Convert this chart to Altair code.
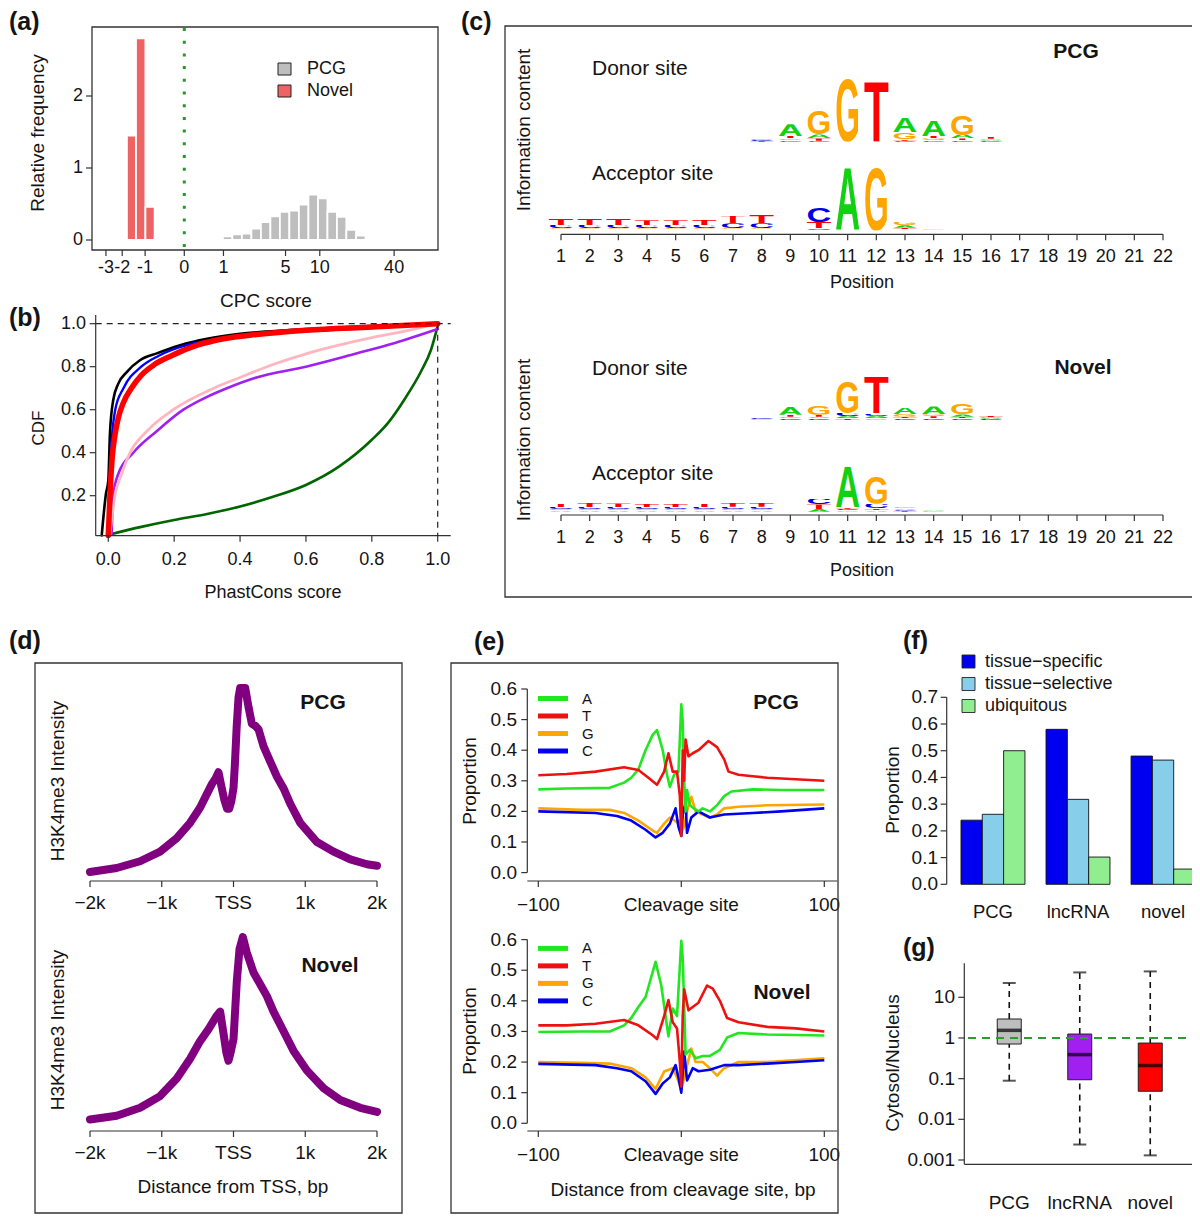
import base64
import altair as alt
import pandas as pd

# ======================= DATA =======================
# (a) CPC score histogram (bins in CPC-score units, heights = relative frequency)
CPC_TICKS = [-3, -2, -1, 0, 1, 5, 10, 40]
CPC_TICK_LABELS = ["-3", "-2", "-1", "0", "1", "5", "10", "40"]
FREQ_TICKS = [0, 1, 2]
NOVEL_BIN_LO = [-1.76, -1.35, -0.99, -0.69]
NOVEL_BIN_HI = [-1.35, -0.99, -0.69, -0.43]
NOVEL_FREQ = [1.45, 2.80, 0.46, 0.02]
PCG_BIN_LO = [0.67, 0.98, 1.34, 1.77, 2.28, 2.88, 3.59, 4.43, 5.42, 6.60, 8.00, 9.66, 11.6, 13.9, 16.6, 19.9]
PCG_BIN_HI = [0.98, 1.34, 1.77, 2.28, 2.88, 3.59, 4.43, 5.42, 6.60, 8.00, 9.66, 11.6, 13.9, 16.6, 19.9, 23.7]
PCG_FREQ = [0.02, 0.05, 0.08, 0.09, 0.16, 0.25, 0.33, 0.39, 0.41, 0.49, 0.63, 0.58, 0.39, 0.32, 0.14, 0.06]

# (b) PhastCons CDF curves
CDF_TICKS = [0.2, 0.4, 0.6, 0.8, 1.0]
PHAST_TICKS = [0.0, 0.2, 0.4, 0.6, 0.8, 1.0]
GREEN_X = [0.005, 0.1, 0.2, 0.3, 0.4, 0.5, 0.6, 0.7, 0.8, 0.85, 0.9, 0.95, 0.98, 1.0]
GREEN_Y = [0.02, 0.055, 0.087, 0.115, 0.15, 0.195, 0.25, 0.335, 0.46, 0.54, 0.65, 0.78, 0.88, 0.99]
PURPLE_X = [0.01, 0.015, 0.03, 0.076, 0.147, 0.228, 0.3, 0.36, 0.45, 0.6, 0.75, 0.87, 1.0]
PURPLE_Y = [0.02, 0.2, 0.3, 0.4, 0.5, 0.6, 0.66, 0.7, 0.75, 0.8, 0.86, 0.91, 0.975]
PINK_X = [0.005, 0.02, 0.04, 0.066, 0.117, 0.197, 0.32, 0.4, 0.5, 0.6, 0.7, 0.8, 0.9, 1.0]
PINK_Y = [0.02, 0.2, 0.3, 0.4, 0.5, 0.6, 0.7, 0.75, 0.81, 0.86, 0.9, 0.935, 0.965, 1.0]
BLACK_X = [-0.02, -0.007, 0.0, 0.005, 0.015, 0.03, 0.056, 0.096, 0.147, 0.218, 0.3, 0.4, 0.55, 0.7, 0.85, 1.0]
BLACK_Y = [0.015, 0.21, 0.27, 0.49, 0.645, 0.72, 0.775, 0.83, 0.862, 0.9, 0.93, 0.953, 0.97, 0.982, 0.992, 1.0]
BLUE_X = [0.0, 0.005, 0.01, 0.021, 0.046, 0.1, 0.152, 0.238, 0.3, 0.4, 0.5, 0.6, 0.8, 1.0]
BLUE_Y = [0.015, 0.3, 0.45, 0.6, 0.7, 0.8, 0.85, 0.9, 0.92, 0.945, 0.955, 0.965, 0.98, 1.0]
RED_X = [0.0, 0.005, 0.012, 0.02, 0.03, 0.045, 0.07, 0.1, 0.14, 0.19, 0.27, 0.35, 0.45, 0.6, 0.8, 1.0]
RED_Y = [0.015, 0.2, 0.38, 0.48, 0.56, 0.63, 0.7, 0.76, 0.81, 0.85, 0.9, 0.93, 0.95, 0.97, 0.985, 1.0]

# (c) splice-site sequence logos: position -> stack of (letter, bits), bottom to top
LOGO_POSITIONS = list(range(1, 23))
PCG_DONOR = [
    (8, [("T", 0.02), ("C", 0.03), ("G", 0.04)]),
    (9, [("C", 0.05), ("G", 0.05), ("T", 0.07), ("A", 0.36)]),
    (10, [("C", 0.03), ("T", 0.07), ("A", 0.12), ("G", 0.73)]),
    (11, [("G", 1.95)]),
    (12, [("T", 1.88)]),
    (13, [("C", 0.03), ("T", 0.05), ("G", 0.21), ("A", 0.45)]),
    (14, [("C", 0.04), ("G", 0.06), ("T", 0.07), ("A", 0.48)]),
    (15, [("C", 0.04), ("T", 0.06), ("A", 0.10), ("G", 0.62)]),
    (16, [("C", 0.03), ("A", 0.03), ("G", 0.03), ("T", 0.06)]),
]
PCG_ACCEPTOR = [
    (1, [("A", 0.03), ("G", 0.04), ("C", 0.10), ("T", 0.18)]),
    (2, [("A", 0.03), ("G", 0.04), ("C", 0.10), ("T", 0.21)]),
    (3, [("A", 0.03), ("G", 0.04), ("C", 0.10), ("T", 0.20)]),
    (4, [("A", 0.03), ("G", 0.04), ("C", 0.10), ("T", 0.14)]),
    (5, [("A", 0.03), ("G", 0.04), ("C", 0.10), ("T", 0.14)]),
    (6, [("A", 0.03), ("G", 0.04), ("C", 0.10), ("T", 0.15)]),
    (7, [("A", 0.03), ("G", 0.04), ("C", 0.15), ("T", 0.23)]),
    (8, [("A", 0.03), ("G", 0.04), ("C", 0.15), ("T", 0.25)]),
    (10, [("A", 0.06), ("T", 0.20), ("C", 0.46)]),
    (11, [("A", 1.96)]),
    (12, [("G", 1.96)]),
    (13, [("C", 0.03), ("T", 0.05), ("A", 0.08), ("G", 0.10)]),
    (14, [("A", 0.02), ("G", 0.02), ("C", 0.02)]),
]
NOVEL_DONOR = [
    (8, [("G", 0.02), ("C", 0.04)]),
    (9, [("C", 0.05), ("G", 0.05), ("T", 0.06), ("A", 0.24)]),
    (10, [("C", 0.05), ("A", 0.05), ("T", 0.06), ("G", 0.28)]),
    (11, [("T", 0.05), ("A", 0.06), ("C", 0.10), ("G", 0.98)]),
    (12, [("G", 0.05), ("A", 0.06), ("C", 0.08), ("T", 1.12)]),
    (13, [("C", 0.05), ("T", 0.05), ("G", 0.08), ("A", 0.22)]),
    (14, [("C", 0.05), ("T", 0.06), ("G", 0.06), ("A", 0.24)]),
    (15, [("C", 0.05), ("T", 0.05), ("A", 0.07), ("G", 0.33)]),
    (16, [("C", 0.03), ("A", 0.03), ("G", 0.03), ("T", 0.05)]),
]
NOVEL_ACCEPTOR = [
    (1, [("A", 0.04), ("G", 0.04), ("C", 0.06), ("T", 0.10)]),
    (2, [("A", 0.04), ("G", 0.04), ("C", 0.06), ("T", 0.12)]),
    (3, [("A", 0.04), ("G", 0.04), ("C", 0.06), ("T", 0.11)]),
    (4, [("A", 0.04), ("G", 0.04), ("C", 0.06), ("T", 0.09)]),
    (5, [("A", 0.04), ("G", 0.04), ("C", 0.06), ("T", 0.09)]),
    (6, [("A", 0.04), ("G", 0.04), ("C", 0.06), ("T", 0.10)]),
    (7, [("A", 0.04), ("G", 0.04), ("C", 0.07), ("T", 0.12)]),
    (8, [("A", 0.04), ("G", 0.04), ("C", 0.07), ("T", 0.12)]),
    (10, [("A", 0.08), ("T", 0.14), ("C", 0.18)]),
    (11, [("G", 0.04), ("C", 0.05), ("T", 0.05), ("A", 1.26)]),
    (12, [("A", 0.05), ("T", 0.05), ("C", 0.14), ("G", 0.84)]),
    (13, [("T", 0.03), ("C", 0.03), ("A", 0.04), ("G", 0.05)]),
    (14, [("G", 0.02), ("A", 0.02)]),
]
LOGO_COLORS = {"A": "#12D012", "C": "#0000E6", "G": "#FFA500", "T": "#FF0000"}

# (d) H3K4me3 profiles around TSS (relative intensity)
TSS_TICKS = [-2000, -1000, 0, 1000, 2000]
TSS_TICK_LABELS = ["\u22122k", "\u22121k", "TSS", "1k", "2k"]
D_PCG_X = [-2000, -1628, -1302, -1023, -791, -605, -465, -372, -302, -250, -209, -170, -130, -90, -60, -30, 0,
           20, 45, 70, 93, 163, 209, 256, 302, 349, 419, 512, 605, 698, 791, 930, 1163, 1395, 1628, 1860, 2000]
D_PCG_Y = [0.024, 0.045, 0.081, 0.132, 0.203, 0.285, 0.366, 0.437, 0.49, 0.52, 0.553, 0.48, 0.41, 0.36, 0.36,
           0.40, 0.47, 0.60, 0.80, 0.95, 1.0, 1.0, 0.90, 0.81, 0.80, 0.78, 0.69, 0.61, 0.53, 0.467, 0.386,
           0.285, 0.183, 0.132, 0.091, 0.065, 0.057]
D_NOV_X = [-2000, -1628, -1302, -1023, -791, -605, -465, -350, -233, -186, -140, -100, -70, -40, 0, 47, 84,
           130, 186, 279, 372, 465, 558, 698, 837, 1023, 1256, 1488, 1767, 2000]
D_NOV_Y = [0.031, 0.051, 0.092, 0.153, 0.245, 0.347, 0.439, 0.50, 0.571, 0.592, 0.48, 0.38, 0.337, 0.38,
           0.449, 0.755, 0.918, 0.98, 0.898, 0.796, 0.735, 0.673, 0.592, 0.49, 0.388, 0.286, 0.194, 0.133,
           0.092, 0.071]

# (e) nucleotide composition around cleavage site
CLV_TICKS = [-100, 0, 100]
CLV_TICK_LABELS = ["\u2212100", "Cleavage site", "100"]
PROP_TICKS = [0.0, 0.1, 0.2, 0.3, 0.4, 0.5, 0.6]
E_PCG_T_X = [-100, -80, -60, -40, -30, -23, -17, -12, -9, -6, -3, -1, 0, 1, 2, 3, 5, 8, 12, 19, 25, 30, 33, 40, 50, 60, 80, 100]
E_PCG_T_Y = [0.318, 0.322, 0.33, 0.344, 0.335, 0.31, 0.287, 0.33, 0.39, 0.33, 0.33, 0.25, 0.12, 0.40, 0.30, 0.435,
             0.38, 0.39, 0.40, 0.43, 0.41, 0.37, 0.33, 0.32, 0.315, 0.31, 0.305, 0.30]
E_PCG_A_X = [-100, -80, -60, -50, -40, -35, -30, -25, -20, -17, -13, -10, -8, -5, -2, 0, 1, 2, 3, 4, 6, 8, 12, 15,
             20, 25, 30, 35, 50, 70, 100]
E_PCG_A_Y = [0.272, 0.275, 0.276, 0.277, 0.294, 0.31, 0.3375, 0.40, 0.45, 0.466, 0.40, 0.32, 0.28, 0.32, 0.33,
             0.55, 0.494, 0.30, 0.20, 0.27, 0.22, 0.2125, 0.20, 0.21, 0.20, 0.22, 0.25, 0.265, 0.272, 0.27, 0.27]
E_PCG_G_X = [-100, -70, -50, -40, -30, -20, -17, -12, -8, -3, -1, 0, 2, 4, 7, 10, 15, 20, 25, 30, 40, 60, 100]
E_PCG_G_Y = [0.21, 0.205, 0.205, 0.195, 0.17, 0.1375, 0.13, 0.16, 0.18, 0.165, 0.17, 0.13, 0.15, 0.20, 0.2475,
             0.20, 0.19, 0.18, 0.19, 0.21, 0.215, 0.22, 0.2225]
E_PCG_C_X = [-100, -60, -45, -35, -25, -18, -13, -8, -4, -2, 0, 1, 3, 4, 7, 12, 20, 30, 50, 70, 100]
E_PCG_C_Y = [0.20, 0.195, 0.185, 0.17, 0.14, 0.115, 0.13, 0.16, 0.21, 0.15, 0.12, 0.19, 0.23, 0.13, 0.18, 0.20,
             0.18, 0.19, 0.195, 0.20, 0.21]
E_NOV_T_X = [-100, -80, -60, -40, -30, -20, -17, -12, -9, -6, -3, -1, 0, 1, 2, 5, 8, 12, 18, 22, 27, 32, 40, 60, 80, 100]
E_NOV_T_Y = [0.32, 0.32, 0.325, 0.3375, 0.32, 0.2875, 0.275, 0.35, 0.4025, 0.33, 0.31, 0.2, 0.12, 0.35, 0.4375,
             0.369, 0.38, 0.394, 0.45, 0.44, 0.40, 0.344, 0.33, 0.315, 0.31, 0.30]
E_NOV_A_X = [-100, -70, -50, -40, -35, -30, -25, -18, -14, -9, -6, -3, 0, 1, 3, 6, 10, 15, 20, 27, 32, 40, 60, 100]
E_NOV_A_Y = [0.298, 0.30, 0.30, 0.32, 0.344, 0.38, 0.4125, 0.5275, 0.45, 0.284, 0.375, 0.35, 0.596, 0.54, 0.225,
             0.24, 0.2125, 0.22, 0.22, 0.24, 0.28, 0.295, 0.29, 0.287]
E_NOV_G_X = [-100, -70, -50, -35, -25, -18, -12, -6, -3, 0, 3, 7, 10, 15, 20, 25, 30, 40, 60, 100]
E_NOV_G_Y = [0.20, 0.198, 0.195, 0.18, 0.15, 0.1125, 0.169, 0.18, 0.15, 0.11, 0.17, 0.244, 0.20, 0.20, 0.18,
             0.156, 0.18, 0.20, 0.20, 0.2125]
E_NOV_C_X = [-100, -60, -45, -35, -25, -18, -13, -8, -4, -2, 0, 2, 4, 8, 12, 20, 30, 40, 60, 80, 100]
E_NOV_C_Y = [0.194, 0.19, 0.18, 0.17, 0.1375, 0.096, 0.13, 0.15, 0.19, 0.15, 0.10, 0.234, 0.14, 0.18, 0.17,
             0.175, 0.19, 0.19, 0.195, 0.20, 0.206]
NUC_COLORS = {"A": "#22E622", "T": "#EE1111", "G": "#FFA500", "C": "#0000EE"}

# (f) expression specificity proportions
F_CATS = ["PCG", "lncRNA", "novel"]
F_TYPES = ["tissue\u2212specific", "tissue\u2212selective", "ubiquitous"]
F_COLORS = ["#0000F0", "#87CEEB", "#90EE90"]
F_SPECIFIC = [0.24, 0.58, 0.48]
F_SELECTIVE = [0.262, 0.318, 0.465]
F_UBIQUITOUS = [0.50, 0.102, 0.057]
F_TICKS = [0.0, 0.1, 0.2, 0.3, 0.4, 0.5, 0.6, 0.7]

# (g) cytosol / nucleus ratio box plots
G_CATS = ["PCG", "lncRNA", "novel"]
G_COLORS = ["#BEBEBE", "#A020F0", "#FF0000"]
G_LOW = [0.089, 0.0024, 0.0013]
G_Q1 = [0.71, 0.094, 0.049]
G_MED = [1.54, 0.39, 0.21]
G_Q3 = [2.93, 1.25, 0.75]
G_HIGH = [22.5, 40.9, 43.3]
G_TICKS = [10, 1, 0.1, 0.01, 0.001]
G_TICK_LABELS = ["10", "1", "0.1", "0.01", "0.001"]

# ======================= HELPERS =======================
OFF = 8          # page margin: reference pixel -> chart pixel
W, H = 1184, 1210
FONT = "Liberation Sans, Arial, Helvetica, sans-serif"
INK = "#141414"
AX = "#333333"
ONE = pd.DataFrame({"k": [0]})


def P(v):
    return v - OFF


def rng(a, b):
    return [P(a), P(b)]


def text(x, y, s, size=19, align="center", baseline="middle", weight="normal", angle=0, color=INK):
    props = dict(align=align, baseline=baseline, fontSize=size, font=FONT, color=color)
    if weight != "normal":
        props["fontWeight"] = weight
    if angle:
        props["angle"] = angle
    return alt.Chart(pd.DataFrame({"t": [s]})).mark_text(**props).encode(
        x=alt.value(P(x)), y=alt.value(P(y)), text="t:N")


def seg(x1, y1, x2, y2, color=AX, width=1.2, dash=None):
    props = dict(color=color, strokeWidth=width)
    if dash:
        props["strokeDash"] = dash
    return alt.Chart(ONE).mark_rule(**props).encode(
        x=alt.value(P(x1)), y=alt.value(P(y1)), x2=alt.value(P(x2)), y2=alt.value(P(y2)))


def box(x1, y1, x2, y2, stroke=AX, width=1.3, fill="white", fill_opacity=0.0):
    return alt.Chart(ONE).mark_rect(stroke=stroke, strokeWidth=width, fill=fill, fillOpacity=fill_opacity).encode(
        x=alt.value(P(x1)), y=alt.value(P(y1)), x2=alt.value(P(x2)), y2=alt.value(P(y2)))


def xticks(values, labels, sc, y_line, y_lab, size=19, tick=6):
    df = pd.DataFrame({"v": values, "lab": labels})
    t = alt.Chart(df).mark_rule(color=AX, strokeWidth=1.2).encode(
        x=alt.X("v:Q", scale=sc, axis=None), y=alt.value(P(y_line)), y2=alt.value(P(y_line + tick)))
    lab = alt.Chart(df).mark_text(fontSize=size, font=FONT, color=INK, align="center", baseline="middle").encode(
        x=alt.X("v:Q", scale=sc, axis=None), y=alt.value(P(y_lab)), text="lab:N")
    return [t, lab]


def yticks(values, labels, sc, x_line, x_lab, size=19, tick=6):
    df = pd.DataFrame({"v": values, "lab": labels})
    t = alt.Chart(df).mark_rule(color=AX, strokeWidth=1.2).encode(
        y=alt.Y("v:Q", scale=sc, axis=None), x=alt.value(P(x_line - tick)), x2=alt.value(P(x_line)))
    lab = alt.Chart(df).mark_text(fontSize=size, font=FONT, color=INK, align="right", baseline="middle").encode(
        y=alt.Y("v:Q", scale=sc, axis=None), x=alt.value(P(x_lab)), text="lab:N")
    return [t, lab]


def lin(domain, a, b, kind="linear"):
    return alt.Scale(type=kind, domain=domain, range=rng(a, b), nice=False, zero=False)


def letter_url(ch, color):
    svg = ('<svg xmlns="http://www.w3.org/2000/svg" width="100" height="100" viewBox="0 0 100 100" '
           'preserveAspectRatio="none">'
           '<text x="50" y="99" text-anchor="middle" font-family="Liberation Sans, Arial, sans-serif" '
           'font-weight="bold" font-size="138" textLength="94" lengthAdjust="spacingAndGlyphs" '
           f'fill="{color}">{ch}</text></svg>')
    return "data:image/svg+xml;base64," + base64.b64encode(svg.encode("utf-8")).decode("ascii")


LETTER_URL = {k: letter_url(k, c) for k, c in LOGO_COLORS.items()}


def panel_label(x, y, s):
    return text(x, y, s, size=25, align="left", weight="bold")


panels = []

# ======================= (a) =======================
sc_a = alt.Scale(type="symlog", constant=1, domain=[-4.12, 88.1], range=rng(92, 438), nice=False, zero=False)
ys_a = lin([0, 2], 240, 96)
nov_df = pd.DataFrame({"lo": NOVEL_BIN_LO, "hi": NOVEL_BIN_HI, "f": NOVEL_FREQ})
nov_df["base"] = 0.0
pcg_df = pd.DataFrame({"lo": PCG_BIN_LO, "hi": PCG_BIN_HI, "f": PCG_FREQ})
pcg_df["base"] = 0.0
a_layers = []
for df, col in [(nov_df, "#EE6363"), (pcg_df, "#BEBEBE")]:
    a_layers.append(alt.Chart(df).mark_rect(fill=col, stroke="white", strokeWidth=1.8).encode(
        x=alt.X("lo:Q", scale=sc_a, axis=None), x2="hi:Q",
        y=alt.Y("f:Q", scale=ys_a, axis=None), y2="base:Q"))
a_layers.append(alt.Chart(pd.DataFrame({"v": [0]})).mark_rule(
    color="#1E9E1E", strokeWidth=3, strokeDash=[3, 9.7]).encode(
    x=alt.X("v:Q", scale=sc_a, axis=None), y=alt.value(P(28)), y2=alt.value(P(252))))
a_layers += xticks(CPC_TICKS, CPC_TICK_LABELS, sc_a, 250, 268, size=18)
a_layers += yticks(FREQ_TICKS, [str(v) for v in FREQ_TICKS], ys_a, 92, 83, size=18)
panels.append(alt.layer(*a_layers))
panels += [
    box(92, 27, 438, 250),
    text(38, 133, "Relative frequency", size=19, angle=270),
    text(266, 301, "CPC score", size=19),
    box(278, 63, 291, 75, stroke="#222222", width=1, fill="#BEBEBE", fill_opacity=1),
    text(307, 69, "PCG", size=18, align="left"),
    box(278, 85, 291, 97, stroke="#222222", width=1, fill="#EE6363", fill_opacity=1),
    text(307, 91, "Novel", size=18, align="left"),
    panel_label(9, 22, "(a)"),
]

# ======================= (b) =======================
sc_b = lin([0, 1], 108.3, 437.7)
ys_b = lin([0, 1], 538.7, 323.7)
b_layers = []
for xs, ys, col, w in [(GREEN_X, GREEN_Y, "#006400", 2.6), (PURPLE_X, PURPLE_Y, "#A020F0", 2.6),
                       (PINK_X, PINK_Y, "#FFB6C1", 2.8), (BLACK_X, BLACK_Y, "#000000", 2.6),
                       (BLUE_X, BLUE_Y, "#0000FF", 2.4), (RED_X, RED_Y, "#FF0000", 5.5)]:
    b_layers.append(alt.Chart(pd.DataFrame({"x": xs, "y": ys})).mark_line(
        color=col, strokeWidth=w, interpolate="monotone", strokeCap="round").encode(
        x=alt.X("x:Q", scale=sc_b, axis=None), y=alt.Y("y:Q", scale=ys_b, axis=None)))
b_layers += xticks(PHAST_TICKS, [f"{v:.1f}" for v in PHAST_TICKS], sc_b, 535.7, 560, size=18)
b_layers += yticks(CDF_TICKS, [f"{v:.1f}" for v in CDF_TICKS], ys_b, 95.7, 86, size=18)
panels.append(alt.layer(*b_layers))
panels += [
    seg(95.7, 315, 95.7, 535.7),
    seg(95.7, 535.7, 450.7, 535.7),
    seg(95.7, 323.7, 450.7, 323.7, color="#222222", width=1.2, dash=[6, 5]),
    seg(437.7, 323.7, 437.7, 535.7, color="#222222", width=1.2, dash=[6, 5]),
    text(39, 428, "CDF", size=17, angle=270),
    text(273, 593, "PhastCons score", size=18),
    panel_label(9, 318, "(b)"),
]

# ======================= (c) =======================
sc_c = lin([1, 22], 561, 1163)


def logo_df(stacks):
    rows = []
    for pos, stack in stacks:
        b = 0.0
        for letter, h in stack:
            rows.append({"x0": pos - 0.46, "x1": pos + 0.46, "b0": b, "b1": b + h, "url": LETTER_URL[letter]})
            b += h
    return pd.DataFrame(rows)


def logo(stacks, base):
    ys = lin([0, 2], base, base - 66)
    return alt.Chart(logo_df(stacks)).mark_image(aspect=False).encode(
        x=alt.X("x0:Q", scale=sc_c, axis=None), x2="x1:Q",
        y=alt.Y("b0:Q", scale=ys, axis=None), y2="b1:Q", url="url:N")


for stacks, base in [(PCG_DONOR, 141.7), (PCG_ACCEPTOR, 230.5), (NOVEL_DONOR, 420), (NOVEL_ACCEPTOR, 511.7)]:
    panels.append(logo(stacks, base))
for y_line, y_lab in [(234.3, 257), (515, 537.5)]:
    panels.append(alt.layer(*xticks(LOGO_POSITIONS, [str(p) for p in LOGO_POSITIONS], sc_c, y_line, y_lab,
                                    size=18, tick=6)))
    panels.append(seg(561, y_line, 1163, y_line))
panels += [
    box(505, 26, 1195, 597),
    text(524, 130, "Information content", size=19, angle=270),
    text(592, 69, "Donor site", size=21, align="left"),
    text(592, 174, "Acceptor site", size=21, align="left"),
    text(1076, 52, "PCG", size=21, weight="bold"),
    text(862, 283, "Position", size=18),
    text(524, 440, "Information content", size=19, angle=270),
    text(592, 369, "Donor site", size=21, align="left"),
    text(592, 474, "Acceptor site", size=21, align="left"),
    text(1083, 368, "Novel", size=21, weight="bold"),
    text(862, 571, "Position", size=18),
    panel_label(461, 22, "(c)"),
]

# ======================= (d) =======================
sc_d = lin([-2000, 2000], 90, 377)
for xs, ys_vals, ys, y_line, y_lab in [(D_PCG_X, D_PCG_Y, lin([0, 1], 876.5, 688), 881, 903),
                                       (D_NOV_X, D_NOV_Y, lin([0, 1], 1125.5, 933.2), 1131, 1153)]:
    d_layers = [alt.Chart(pd.DataFrame({"x": xs, "y": ys_vals})).mark_line(
        color="#800080", strokeWidth=8, strokeJoin="round", strokeCap="round").encode(
        x=alt.X("x:Q", scale=sc_d, axis=None), y=alt.Y("y:Q", scale=ys, axis=None))]
    d_layers += xticks(TSS_TICKS, TSS_TICK_LABELS, sc_d, y_line, y_lab, size=19)
    panels.append(alt.layer(*d_layers))
    panels.append(seg(90, y_line, 377, y_line))
panels += [
    box(35, 663, 402, 1213),
    text(58, 781, "H3K4me3 Intensity", size=19, angle=270),
    text(58, 1030, "H3K4me3 Intensity", size=19, angle=270),
    text(323, 703, "PCG", size=21, weight="bold"),
    text(330, 966, "Novel", size=21, weight="bold"),
    text(233, 1187, "Distance from TSS, bp", size=19),
    panel_label(9, 641, "(d)"),
]

# ======================= (e) =======================
sc_e = lin([-100, 100], 538.3, 824.3)
e_sets = [
    ({"G": (E_PCG_G_X, E_PCG_G_Y), "C": (E_PCG_C_X, E_PCG_C_Y), "A": (E_PCG_A_X, E_PCG_A_Y),
      "T": (E_PCG_T_X, E_PCG_T_Y)}, 872.6, 689, 881, 905, 698.5),
    ({"G": (E_NOV_G_X, E_NOV_G_Y), "C": (E_NOV_C_X, E_NOV_C_Y), "A": (E_NOV_A_X, E_NOV_A_Y),
      "T": (E_NOV_T_X, E_NOV_T_Y)}, 1123.3, 939.6, 1131, 1155, 948.4),
]
for series, y0, y6, y_line, y_lab, leg_y in e_sets:
    ys = lin([0, 0.6], y0, y6)
    e_layers = []
    for nuc in ["G", "C", "A", "T"]:
        xs, vs = series[nuc]
        e_layers.append(alt.Chart(pd.DataFrame({"x": xs, "y": vs})).mark_line(
            color=NUC_COLORS[nuc], strokeWidth=2.6, strokeJoin="round").encode(
            x=alt.X("x:Q", scale=sc_e, axis=None), y=alt.Y("y:Q", scale=ys, axis=None)))
    e_layers += xticks(CLV_TICKS, CLV_TICK_LABELS, sc_e, y_line, y_lab, size=19)
    e_layers += yticks(PROP_TICKS, [f"{v:.1f}" for v in PROP_TICKS], ys, 527.3, 517, size=19)
    panels.append(alt.layer(*e_layers))
    panels.append(seg(527.3, y0, 527.3, y6))
    panels.append(seg(527.3, y_line, 837.3, y_line))
    for i, nuc in enumerate(["A", "T", "G", "C"]):
        yy = leg_y + i * 17.5
        panels.append(seg(538, yy, 568, yy, color=NUC_COLORS[nuc], width=5))
        panels.append(text(582, yy, nuc, size=15, align="left"))
panels += [
    box(451, 663, 838, 1213),
    text(470, 781, "Proportion", size=19, angle=270),
    text(470, 1031, "Proportion", size=19, angle=270),
    text(776, 703, "PCG", size=21, weight="bold"),
    text(782, 993, "Novel", size=21, weight="bold"),
    text(683, 1190, "Distance from cleavage site, bp", size=19),
    panel_label(474, 642, "(e)"),
]

# ======================= (f) =======================
sc_f = alt.Scale(domain=F_CATS, range=rng(950.45, 1205.55), paddingInner=0.248, paddingOuter=0.124)
ys_f = lin([0, 0.7], 884.3, 697.3)
f_rows = []
for i, cat in enumerate(F_CATS):
    for t, vals in zip(F_TYPES, [F_SPECIFIC, F_SELECTIVE, F_UBIQUITOUS]):
        f_rows.append({"cat": cat, "type": t, "val": vals[i]})
f_df = pd.DataFrame(f_rows)
f_layers = [
    alt.Chart(f_df).mark_bar(stroke="#111111", strokeWidth=0.9).encode(
        x=alt.X("cat:N", scale=sc_f, axis=None),
        xOffset=alt.XOffset("type:N", scale=alt.Scale(domain=F_TYPES, paddingInner=0, paddingOuter=0)),
        y=alt.Y("val:Q", scale=ys_f, axis=None),
        color=alt.Color("type:N", scale=alt.Scale(domain=F_TYPES, range=F_COLORS), legend=None)),
    alt.Chart(pd.DataFrame({"cat": F_CATS})).mark_text(fontSize=18.5, font=FONT, color=INK, baseline="middle").encode(
        x=alt.X("cat:N", scale=sc_f, axis=None), y=alt.value(P(912)), text="cat:N"),
]
f_layers += yticks(F_TICKS, [f"{v:.1f}" for v in F_TICKS], ys_f, 946.7, 938, size=19)
panels.append(alt.layer(*f_layers))
panels.append(seg(946.7, 884.3, 946.7, 697.3))
for i, (t, col) in enumerate(zip(F_TYPES, F_COLORS)):
    yy = [661.5, 684, 706][i]
    panels.append(box(962, yy - 6.5, 975, yy + 6.5, stroke="#222222", width=0.9, fill=col, fill_opacity=1))
    panels.append(text(985, yy, t, size=18, align="left"))
panels += [
    text(893, 790, "Proportion", size=19, angle=270),
    panel_label(903, 641, "(f)"),
]

# ======================= (g) =======================
sc_g = alt.Scale(domain=G_CATS, range=rng(974, 1185.5), paddingInner=0.66, paddingOuter=0.33)
ys_g = alt.Scale(type="log", domain=[0.001, 10], range=rng(1160, 997.3), nice=False)
g_df = pd.DataFrame({"cat": G_CATS, "lo": G_LOW, "q1": G_Q1, "med": G_MED, "q3": G_Q3, "hi": G_HIGH})
gx = alt.X("cat:N", scale=sc_g, axis=None)
g_layers = [
    alt.Chart(g_df).mark_rule(color="#111111", strokeWidth=1.6, strokeDash=[6, 5]).encode(
        x=gx, y=alt.Y("q3:Q", scale=ys_g, axis=None), y2="hi:Q"),
    alt.Chart(g_df).mark_rule(color="#111111", strokeWidth=1.6, strokeDash=[6, 5]).encode(
        x=gx, y=alt.Y("lo:Q", scale=ys_g, axis=None), y2="q1:Q"),
    alt.Chart(g_df).mark_tick(color="#111111", size=13, thickness=2, orient="horizontal").encode(
        x=gx, y=alt.Y("hi:Q", scale=ys_g, axis=None)),
    alt.Chart(g_df).mark_tick(color="#111111", size=13, thickness=2, orient="horizontal").encode(
        x=gx, y=alt.Y("lo:Q", scale=ys_g, axis=None)),
    alt.Chart(g_df).mark_bar(stroke="#222222", strokeWidth=1).encode(
        x=gx, y=alt.Y("q1:Q", scale=ys_g, axis=None), y2="q3:Q",
        color=alt.Color("cat:N", scale=alt.Scale(domain=G_CATS, range=G_COLORS), legend=None)),
    alt.Chart(g_df).mark_tick(color="#000000", size=24, thickness=3.5, orient="horizontal").encode(
        x=gx, y=alt.Y("med:Q", scale=ys_g, axis=None)),
    alt.Chart(pd.DataFrame({"v": [1]})).mark_rule(color="#2E9B2E", strokeWidth=2, strokeDash=[8, 6]).encode(
        y=alt.Y("v:Q", scale=ys_g, axis=None), x=alt.value(P(968)), x2=alt.value(P(1196))),
    alt.Chart(pd.DataFrame({"cat": G_CATS})).mark_text(fontSize=19, font=FONT, color=INK, baseline="middle").encode(
        x=gx, y=alt.value(P(1203)), text="cat:N"),
]
g_layers += yticks(G_TICKS, G_TICK_LABELS, ys_g, 964.3, 955, size=19)
panels.append(alt.layer(*g_layers))
panels += [
    seg(964.3, 963.3, 964.3, 1164.3),
    seg(964.3, 1164.3, 1193.3, 1164.3),
    text(893, 1063, "Cytosol/Nucleus", size=19, angle=270),
    panel_label(903, 948, "(g)"),
]

# ======================= assemble =======================
chart = alt.layer(*panels).resolve_scale(
    x="independent", y="independent", color="independent"
).properties(
    width=W, height=H, padding=0, autosize=alt.AutoSizeParams(type="none"), background="white"
).configure_view(strokeWidth=0)

chart.save("out.html", embed_options={"renderer": "svg", "actions": False})
